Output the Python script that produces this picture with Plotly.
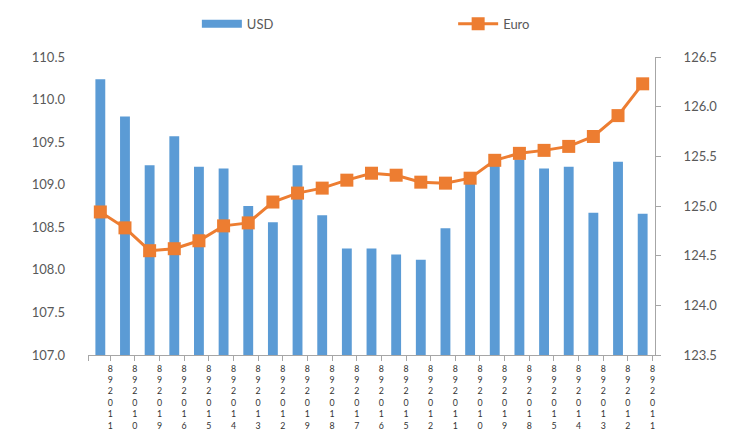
import plotly.graph_objects as go

# Data (July 2019 business days, most recent first)
dates = ["2019-07-31", "2019-07-30", "2019-07-29", "2019-07-26", "2019-07-25",
         "2019-07-24", "2019-07-23", "2019-07-22", "2019-07-19", "2019-07-18",
         "2019-07-17", "2019-07-16", "2019-07-15", "2019-07-12", "2019-07-11",
         "2019-07-10", "2019-07-09", "2019-07-08", "2019-07-05", "2019-07-04",
         "2019-07-03", "2019-07-02", "2019-07-01"]

usd = [110.24, 109.80, 109.23, 109.57, 109.21, 109.19, 108.75, 108.56, 109.23, 108.64,
       108.25, 108.25, 108.18, 108.12, 108.49, 109.07, 109.24, 109.30, 109.19, 109.21,
       108.67, 109.27, 108.66]

euro = [124.94, 124.78, 124.55, 124.57, 124.65, 124.80, 124.83, 125.04, 125.13, 125.18,
        125.26, 125.33, 125.31, 125.24, 125.23, 125.28, 125.46, 125.53, 125.56, 125.60,
        125.70, 125.91, 126.23]

# stacked tick labels as they appear in the chart
def stacked(d):
    day = d[-2:]
    chars = ["8", "9", "2", "0", "1", day[1], day[0]]
    return "<br>".join(chars)

x_pos = list(range(len(dates)))
tick_vals = [-0.5] + [i + 0.4 for i in x_pos]
tick_text = [""] + [stacked(d) for d in dates]

BLUE = "#5B9BD5"
ORANGE = "#ED7D31"
GREY = "#595959"
AXIS = "#A6A6A6"
FONT = "Lato"

fig = go.Figure()
fig.add_trace(go.Bar(x=x_pos, y=usd, name="USD", marker=dict(color=BLUE, line=dict(width=0)),
                     yaxis="y", showlegend=False))
# legend entry for USD drawn as a wide swatch (like the original)
fig.add_trace(go.Scatter(x=[None], y=[None], name="USD", mode="lines",
                         line=dict(color=BLUE, width=8), hoverinfo="skip",
                         legend="legend"))
fig.add_trace(go.Scatter(x=x_pos, y=euro, name="Euro", mode="lines+markers",
                         line=dict(color=ORANGE, width=3),
                         marker=dict(symbol="square", size=13, color=ORANGE),
                         yaxis="y2", legend="legend2"))

legend_common = dict(orientation="h", xanchor="left", y=1.111, yanchor="middle",
                     itemwidth=40, font=dict(family=FONT, size=13, color=GREY),
                     bgcolor="rgba(0,0,0,0)")

fig.update_layout(
    width=727, height=425,
    margin=dict(l=80, r=80, t=49, b=78, autoexpand=False),
    paper_bgcolor="white", plot_bgcolor="white",
    font=dict(family=FONT, color=GREY, size=13),
    bargap=0.6,
    showlegend=True,
    legend=dict(x=0.192, **legend_common),
    legend2=dict(x=0.644, **legend_common),
    xaxis=dict(range=[-0.5, len(dates) - 0.5], tickmode="array", tickvals=tick_vals,
               ticktext=tick_text, showgrid=False, showline=True, linecolor=AXIS,
               linewidth=1, ticks="outside", ticklen=5, tickcolor=AXIS, tickangle=0,
               tickfont=dict(family=FONT, size=8.8, color="#333333"), zeroline=False),
    yaxis=dict(range=[107.0, 110.5], dtick=0.5, tickformat=".1f", showgrid=False,
               showline=False, zeroline=False, ticks="", ticklabelstandoff=22,
               tickfont=dict(family=FONT, size=13, color=GREY)),
    yaxis2=dict(range=[123.5, 126.5], dtick=0.5, tickformat=".1f", overlaying="y",
                side="right", showgrid=False, showline=True, linecolor=AXIS, linewidth=1,
                ticks="outside", ticklen=5, tickcolor=AXIS, zeroline=False,
                ticklabelstandoff=20, tickfont=dict(family=FONT, size=13, color=GREY)),
)

fig.write_html("out.html")
